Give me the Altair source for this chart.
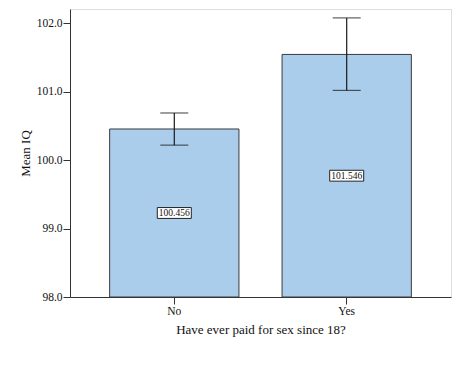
import altair as alt
import pandas as pd

categories = ["No", "Yes"]
means = [100.456, 101.546]
ci_low = [100.22, 101.02]
ci_high = [100.69, 102.08]
labels = ["100.456", "101.546"]

df = pd.DataFrame({"cat": categories, "mean": means, "lo": ci_low, "hi": ci_high, "label": labels})

FONT = "Liberation Serif"
ydom = [98, 102.21]

x = alt.X("cat:N", sort=categories,
          scale=alt.Scale(paddingInner=0.25, paddingOuter=0.23),
          axis=alt.Axis(title="Have ever paid for sex since 18?", labelAngle=0,
                        labelFont=FONT, titleFont=FONT, labelFontSize=11.5, titleFontSize=13,
                        titleFontWeight="normal", labelColor="#111", titleColor="#111",
                        domainColor="#333", tickColor="#333", tickSize=7, labelPadding=1,
                        titlePadding=7))
yscale = alt.Scale(domain=ydom, nice=False, zero=False)
yaxis = alt.Axis(title="Mean IQ", values=[98, 99, 100, 101, 102], format=".1f", grid=False,
                 labelFont=FONT, titleFont=FONT, labelFontSize=11.5, titleFontSize=13,
                 titleFontWeight="normal", labelColor="#111", titleColor="#111",
                 domainColor="#333", tickColor="#333", tickSize=7, labelPadding=1, titlePadding=4)

base = alt.Chart(df)
bars = base.mark_bar(color="#abcdec", stroke="#3a3a3a", strokeWidth=1).encode(
    x=x, y=alt.Y("mean:Q", scale=yscale, axis=yaxis), y2=alt.datum(98))
rules = base.mark_rule(color="#1a1a1a", strokeWidth=1.2).encode(
    x=alt.X("cat:N", sort=categories), y="lo:Q", y2="hi:Q")
cap_lo = base.mark_tick(color="#1a1a1a", size=28, thickness=1.2).encode(
    x=alt.X("cat:N", sort=categories), y="lo:Q")
cap_hi = base.mark_tick(color="#1a1a1a", size=28, thickness=1.2).encode(
    x=alt.X("cat:N", sort=categories), y="hi:Q")
boxes = base.transform_calculate(mid="(98 + datum.mean) / 2").mark_point(
    shape="M-1,-0.32H1V0.32H-1Z", size=1156, filled=True, fill="white",
    stroke="#222", strokeWidth=1, opacity=1).encode(
    x=alt.X("cat:N", sort=categories), y="mid:Q")
texts = base.transform_calculate(mid="(98 + datum.mean) / 2").mark_text(
    font=FONT, fontSize=9.5, color="#111").encode(
    x=alt.X("cat:N", sort=categories), y="mid:Q", text="label:N")

chart = alt.layer(bars, rules, cap_lo, cap_hi, boxes, texts).properties(
    width=381, height=288,
    autosize=alt.AutoSizeParams(type="none"),
    padding={"left": 70, "top": 9, "right": 9, "bottom": 71},
).configure_view(stroke="#777", strokeWidth=1).configure(background="white")

chart.save("out.html", embed_options={"renderer": "svg", "actions": False})
